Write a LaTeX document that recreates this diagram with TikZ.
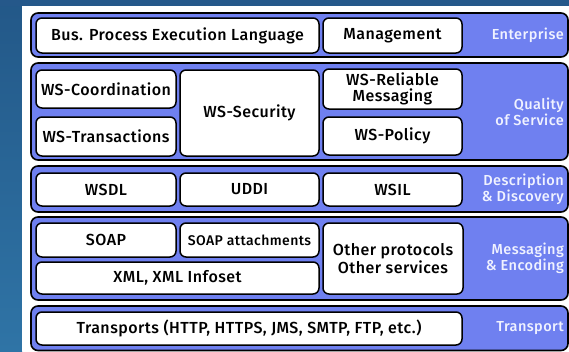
\documentclass[tikz,border=0pt]{standalone}
\usepackage{fontspec}
\setmainfont{Fira Sans}[BoldFont={Fira Sans Medium}, LetterSpace=3]
\usetikzlibrary{positioning}
\definecolor{bandfill}{HTML}{6F80F0}
\definecolor{lblcol}{HTML}{F0F2FF}
\definecolor{stripA}{HTML}{235888}
\definecolor{stripB}{HTML}{2F74A6}
\definecolor{topstrip}{HTML}{25588A}
\tikzset{
  band/.style={draw=black, line width=1.6pt, fill=bandfill, rounded corners=7pt},
  box/.style={draw=black, line width=1.5pt, fill=white, rounded corners=6pt,
    font=\fontsize{16}{18}\selectfont\bfseries, align=center, inner sep=0pt},
  lbl/.style={font=\fontsize{14.5}{16}\selectfont\bfseries, text=lblcol, align=right,
    anchor=east, inner sep=0pt}
}
\begin{document}
\begin{tikzpicture}[x=1pt,y=-1pt]
\useasboundingbox (0,0) rectangle (569,351);
\clip (0,0) rectangle (569,351);
% page backdrop
\shade[top color=stripA, bottom color=stripB] (0,0) rectangle (22,351);
\fill[topstrip] (0,0) rectangle (569,6);
\fill[white] (22,6) rectangle (569,351);
% layer bands
\draw[band] (31,13) rectangle (568,57);
\draw[band] (31,63) rectangle (568,160);
\draw[band] (31,166) rectangle (568,212);
\draw[band] (31,217) rectangle (568,300);
\draw[band] (31,306) rectangle (568,350.5);
% Enterprise
\node[box, minimum width=283, minimum height=35] (bpel) at (177.5,35.5) {Bus. Process Execution Language};
\node[box, minimum width=139, minimum height=35] (mgmt) at (392.5,35.5) {Management};
\node[lbl] (lent) at (564,35.5) {Enterprise};
% Quality of Service
\node[box, minimum width=140, minimum height=38] (coord) at (106,89) {WS-Coordination};
\node[box, minimum width=140, minimum height=39] (trans) at (106,136.5) {WS-Transactions};
\node[box, minimum width=139, minimum height=86] (sec) at (249.5,113) {WS-Security};
\node[box, minimum width=139, minimum height=40] (rel) at (392.5,89) {WS-Reliable\\[-2pt]Messaging};
\node[box, minimum width=139, minimum height=38] (pol) at (392.5,136) {WS-Policy};
\node[lbl] (lqos) at (564,112) {Quality\\of Service};
% Description & Discovery
\node[box, minimum width=140, minimum height=33] (wsdl) at (106,189.5) {WSDL};
\node[box, minimum width=139, minimum height=33] (uddi) at (249.5,189.5) {UDDI};
\node[box, minimum width=139, minimum height=33] (wsil) at (392.5,189.5) {WSIL};
\node[lbl] (ldesc) at (564,189) {Description\\\& Discovery};
% Messaging & Encoding
\node[box, minimum width=140, minimum height=34] (soap) at (106,240) {SOAP};
\node[box, minimum width=139, minimum height=34, font=\fontsize{14}{16}\selectfont\bfseries] (att) at (249.5,240) {SOAP attachments};
\node[box, minimum width=283, minimum height=32] (xml) at (177.5,278) {XML, XML Infoset};
\node[box, minimum width=140, minimum height=71] (other) at (393,258.5) {Other protocols\\Other services};
\node[lbl] (lmsg) at (564,258.5) {Messaging\\\& Encoding};
% Transport
\node[box, minimum width=426, minimum height=33] (trp) at (249,328.5) {Transports (HTTP, HTTPS, JMS, SMTP, FTP, etc.)};
\node[lbl] (ltrp) at (564,328.5) {Transport};
\end{tikzpicture}
\end{document}
